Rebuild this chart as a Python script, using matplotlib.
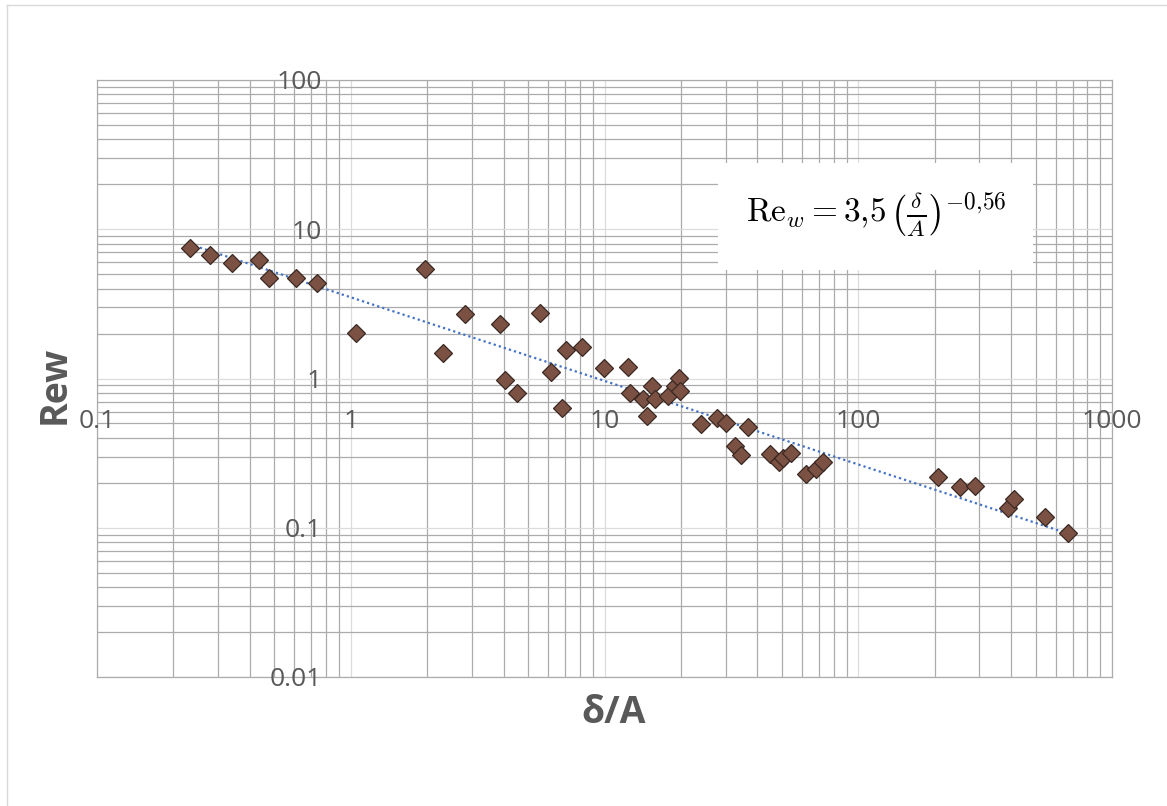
import numpy as np
import matplotlib
matplotlib.use("Agg")
import matplotlib.pyplot as plt
from matplotlib.lines import Line2D
from matplotlib.patches import Rectangle

# measured points: delta/A and wall Reynolds number
delta_a = [0.232, 0.278, 0.340, 0.434, 0.475, 0.607, 0.734,
           1.05, 1.96, 2.31, 2.81, 3.86, 4.07, 4.50, 5.57, 6.18, 6.80, 7.02,
           8.19, 9.96, 12.38, 12.6, 14.2, 14.7, 15.4, 15.8, 17.8, 19.0, 19.7,
           19.8, 24.1, 27.8, 30.2, 32.6, 34.65, 36.9, 44.8, 48.7, 50.3, 54.5,
           62.1, 68.4, 72.6, 206, 251, 288, 389, 411, 543, 671]
re_w = [7.49, 6.72, 5.94, 6.22, 4.71, 4.71, 4.36,
        2.01, 5.44, 1.475, 2.705, 2.33, 0.977, 0.803, 2.76, 1.10, 0.634, 1.552,
        1.633, 1.17, 1.19, 0.80, 0.725, 0.56, 0.895, 0.725, 0.76, 0.89, 1.01,
        0.83, 0.498, 0.541, 0.501, 0.353, 0.307, 0.47, 0.31, 0.277, 0.292, 0.315,
        0.229, 0.246, 0.277, 0.218, 0.1866, 0.190, 0.135, 0.155, 0.1186, 0.0926]

# power-law fit Re_w = a * (delta/A)^b
fit_a = 3.5
fit_b = -0.56
fit_range = [0.232, 671]

x_ticks = [0.1, 1, 10, 100, 1000]
x_tick_labels = ["0.1", "1", "10", "100", "1000"]
y_ticks = [0.01, 0.1, 1, 10, 100]
y_tick_labels = ["0.01", "0.1", "1", "10", "100"]

W, H = 1167, 806
plt.rcParams["mathtext.fontset"] = "cm"
plt.rcParams["font.family"] = ["Open Sans", "DejaVu Sans"]

fig = plt.figure(figsize=(W / 100, H / 100), dpi=100)
ax = fig.add_axes([97 / W, 1 - 677 / H, (1112 - 97) / W, (677 - 80) / H])
ax.set_xscale("log")
ax.set_yscale("log")
ax.set_xlim(0.1, 1000)
ax.set_ylim(0.01, 100)

ax.grid(True, which="minor", color="#ABABAB", linewidth=0.9)
ax.grid(True, which="major", color="#DCDCDC", linewidth=0.9)
ax.set_axisbelow(True)
for s in ax.spines.values():
    s.set_color("#ABABAB")
    s.set_linewidth(0.9)
ax.tick_params(which="both", length=0, labelbottom=False, labelleft=False)

# axis labels sit where the axes cross at (1, 1)
gray = "#595959"
for v, lab in zip(y_ticks, y_tick_labels):
    ax.annotate(lab, xy=(1, v), xytext=(-21, -2), textcoords="offset points",
                ha="right", va="center", fontsize=19, color=gray,
                annotation_clip=False)
for v, lab in zip(x_ticks, x_tick_labels):
    ax.annotate(lab, xy=(v, 1), xytext=(0, -31), textcoords="offset points",
                ha="center", va="center", fontsize=19, color=gray,
                annotation_clip=False)

fx = np.array(fit_range)
ax.plot(fx, fit_a * fx ** fit_b, color="#4472C4", linewidth=1.6,
        linestyle=(0, (1, 1.4)), zorder=3)

ax.plot(delta_a, re_w, linestyle="none", marker="D", markersize=9,
        markerfacecolor="#7B5144", markeredgecolor="#3A2822",
        markeredgewidth=0.9, zorder=4)

# white box holding the fit equation
ax.add_patch(Rectangle((718 / W, 1 - 270 / H), (1033 - 718) / W, (270 - 163) / H,
                       transform=fig.transFigure, facecolor="white",
                       edgecolor="none", zorder=2.5))
fig.text(876 / W, 1 - 215 / H,
         r"$\mathrm{Re}_w = 3{,}5\,\left(\frac{\delta}{A}\right)^{-0{,}56}$",
         ha="center", va="center", fontsize=24, color="black", zorder=5)

fig.text(614 / W, 1 - 713 / H, "δ/A", ha="center", va="center",
         fontsize=27, fontweight="bold", color=gray)
fig.text(55 / W, 1 - 385 / H, "Rew", ha="center", va="center",
         fontsize=27, fontweight="bold", color=gray, rotation=90)

# thin frame along top and left edge
fig.add_artist(Line2D([7 / W, 1], [1 - 5 / H, 1 - 5 / H],
                      transform=fig.transFigure, color="#D9D9D9", linewidth=1))
fig.add_artist(Line2D([7 / W, 7 / W], [0, 1 - 5 / H],
                      transform=fig.transFigure, color="#D9D9D9", linewidth=1))

fig.savefig("out.png", dpi=100)
